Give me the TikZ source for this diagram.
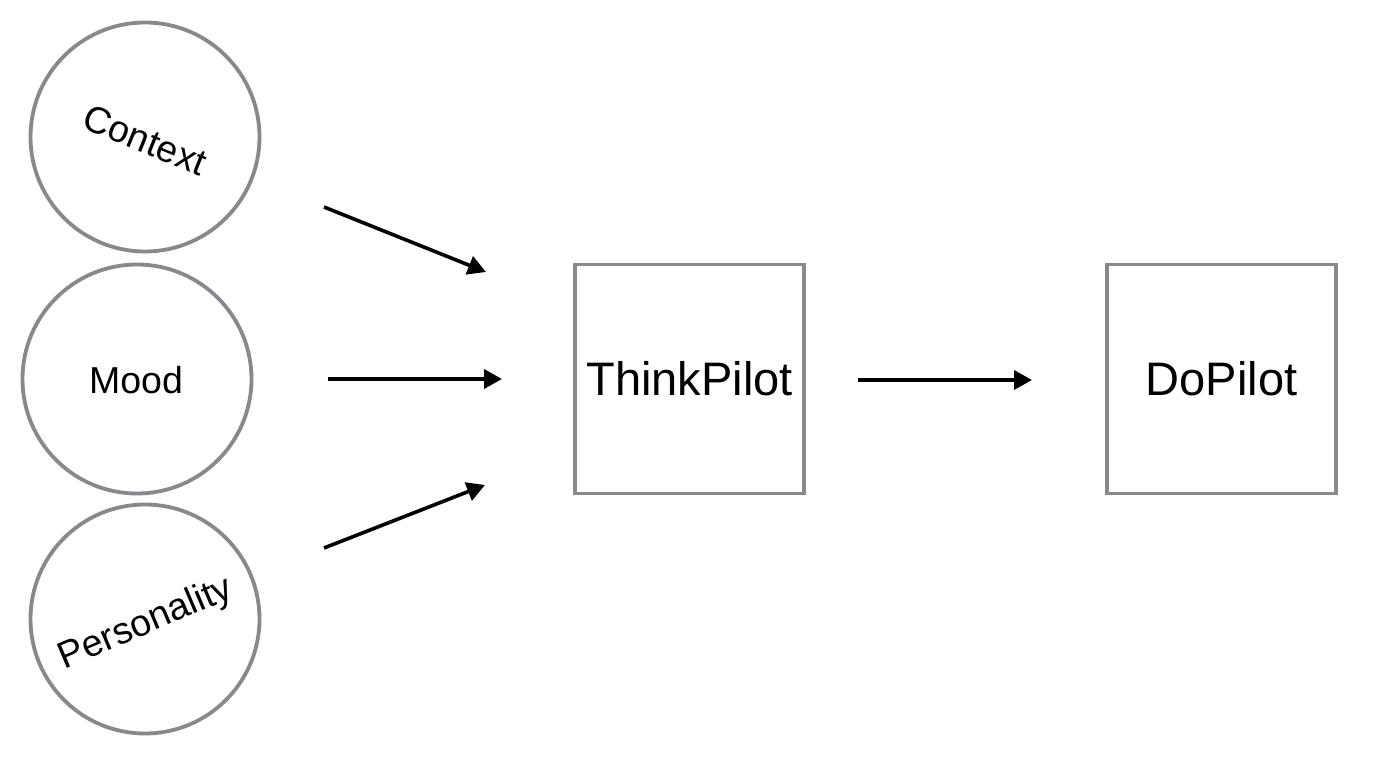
\documentclass[tikz,border=0pt]{standalone}
\usepackage{fontspec}
\setmainfont{Liberation Sans}
\usetikzlibrary{arrows.meta}
\definecolor{edgegray}{RGB}{136,137,141}
\begin{document}
\begin{tikzpicture}[x=1pt,y=-1pt,
  ring/.style={circle,draw=edgegray,line width=3.8pt,minimum size=229pt,inner sep=0pt},
  pilot/.style={rectangle,draw=edgegray,line width=3.8pt,minimum size=229pt,inner sep=0pt,font=\fontsize{47}{50}\selectfont},
  small/.style={font=\fontsize{37.5}{40}\selectfont},
  arr/.style={line width=3.6pt,-{Triangle[length=18pt,width=19pt]}}]
\useasboundingbox (0,0) rectangle (1378,770);
\node[ring] (ctx) at (145,137) {};
\node[small,rotate=-22] (ctxt) at (145,140) {Context};
\node[ring] (mood) at (137,379) {};
\node[small] (moodt) at (136,380) {Mood};
\node[ring] (pers) at (145,619) {};
\node[small,rotate=23] (perst) at (146,624) {Personality};
\node[pilot] (think) at (689.5,379) {ThinkPilot};
\node[pilot] (do) at (1221.5,379) {DoPilot};
\coordinate (a1s) at (324,207); \coordinate (a1e) at (486,272);
\coordinate (a2s) at (328,379); \coordinate (a2e) at (502,379);
\coordinate (a3s) at (324,548); \coordinate (a3e) at (485,485);
\coordinate (a4s) at (858,380); \coordinate (a4e) at (1032,380);
\draw[arr] (a1s) -- (a1e);
\draw[arr] (a2s) -- (a2e);
\draw[arr] (a3s) -- (a3e);
\draw[arr] (a4s) -- (a4e);
\end{tikzpicture}
\end{document}
